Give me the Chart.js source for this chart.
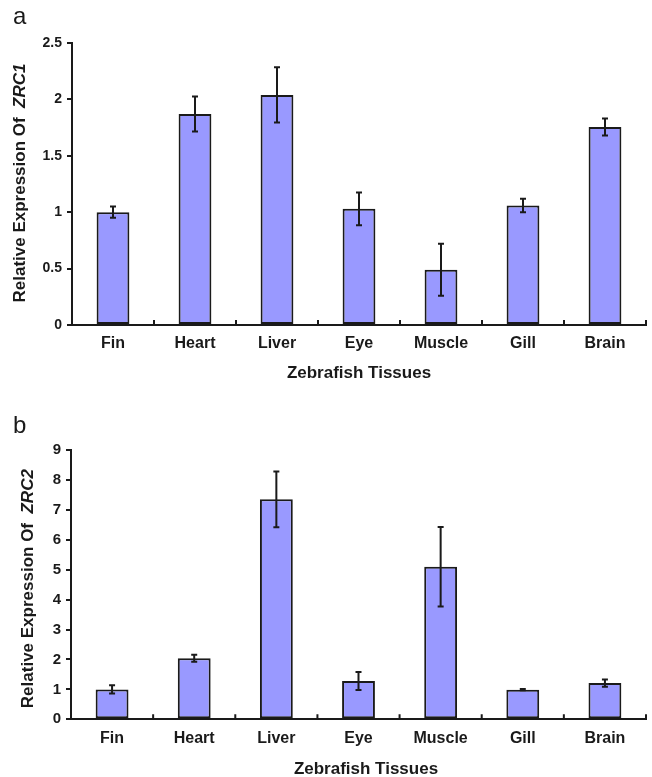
<!DOCTYPE html>
<html>
<head>
<meta charset="utf-8">
<script src="https://cdn.jsdelivr.net/npm/chart.js@4.4.1/dist/chart.umd.min.js"></script>
<style>
  html, body { margin: 0; padding: 0; background: #fff; }
  .panel { position: absolute; left: 0; width: 652px; }
  #panelA { top: 0; height: 385px; }
  #panelB { top: 390px; height: 387px; }
</style>
</head>
<body>
<div class="panel" id="panelA"><canvas id="chartA"></canvas></div>
<div class="panel" id="panelB"><canvas id="chartB"></canvas></div>
<script>
var tissues = ['Fin', 'Heart', 'Liver', 'Eye', 'Muscle', 'Gill', 'Brain'];

// panel a - ZRC1
var zrc1 = [1.0, 1.87, 2.04, 1.03, 0.49, 1.06, 1.755];
var zrc1Err = [0.05, 0.155, 0.245, 0.145, 0.23, 0.06, 0.075];
var zrc1Ticks = [0, 0.5, 1, 1.5, 2, 2.5];

// panel b - ZRC2
var zrc2 = [1.0, 2.04, 7.35, 1.28, 5.1, 0.99, 1.21];
var zrc2Err = [0.14, 0.12, 0.93, 0.3, 1.33, 0.02, 0.12];
var zrc2Ticks = [0, 1, 2, 3, 4, 5, 6, 7, 8, 9];

var FONT = "'Liberation Sans', Arial, sans-serif";
var INK = '#1a1a1a';

// error bars, category ticks on the x axis, and all the titles
var decor = {
    id: 'decor',
    afterDatasetsDraw: function(chart, args, opts) {
        var ctx = chart.ctx;
        var xs = chart.scales.x, ys = chart.scales.y;
        var area = chart.chartArea;
        var ds = chart.data.datasets[0];
        var meta = chart.getDatasetMeta(0);
        ctx.save();
        ctx.strokeStyle = INK;
        ctx.lineWidth = 2;
        ds.data.forEach(function(v, i) {
            var e = ds.errors[i];
            var x = meta.data[i].x;
            var top = ys.getPixelForValue(v + e);
            var bot = ys.getPixelForValue(v - e);
            ctx.beginPath();
            ctx.moveTo(x, top); ctx.lineTo(x, bot);
            ctx.moveTo(x - 3, top); ctx.lineTo(x + 3, top);
            ctx.moveTo(x - 3, bot); ctx.lineTo(x + 3, bot);
            ctx.stroke();
        });
        var w = xs.getPixelForValue(1) - xs.getPixelForValue(0);
        ctx.beginPath();
        for (var i = 0; i < ds.data.length; i++) {
            var bx = xs.getPixelForValue(i) + w / 2;
            ctx.moveTo(bx, area.bottom);
            ctx.lineTo(bx, area.bottom - 5);
        }
        ctx.stroke();
        ctx.restore();
    },
    afterDraw: function(chart, args, opts) {
        var ctx = chart.ctx;
        var area = chart.chartArea;
        ctx.save();
        ctx.fillStyle = INK;
        ctx.textBaseline = 'alphabetic';

        // panel letter
        ctx.font = '24px ' + FONT;
        ctx.textAlign = 'left';
        ctx.fillText(opts.letter, 13, opts.letterY);

        // x axis title
        ctx.font = 'bold 17px ' + FONT;
        ctx.textAlign = 'center';
        ctx.fillText('Zebrafish Tissues', opts.xTitleX, opts.xTitleY);

        // y axis title, gene name in italics
        var part1 = 'Relative Expression Of  ';
        var part2 = opts.gene;
        var f1 = 'bold 17px ' + FONT, f2 = 'italic bold 17px ' + FONT;
        ctx.font = f1;
        var w1 = ctx.measureText(part1).width;
        ctx.font = f2;
        var w2 = ctx.measureText(part2).width;
        var cy = (area.top + area.bottom) / 2 + opts.yShift;
        ctx.translate(opts.yTitleX, cy);
        ctx.rotate(-Math.PI / 2);
        ctx.textAlign = 'left';
        ctx.font = f1;
        ctx.fillText(part1, -(w1 + w2) / 2, 0);
        ctx.font = f2;
        ctx.fillText(part2, -(w1 + w2) / 2 + w1, 0);
        ctx.restore();
    }
};

function makeChart(id, values, errors, tickVals, cfg) {
    return new Chart(document.getElementById(id), {
        type: 'bar',
        data: {
            labels: tissues,
            datasets: [{
                data: values,
                errors: errors,
                backgroundColor: '#9999ff',
                borderColor: INK,
                borderWidth: 2,
                borderSkipped: false,
                barPercentage: 0.4,
                categoryPercentage: 1.0
            }]
        },
        plugins: [decor],
        options: {
            responsive: true,
            maintainAspectRatio: false,
            animation: false,
            layout: { padding: { top: cfg.top, right: 6, left: 0, bottom: 0 } },
            plugins: {
                legend: { display: false },
                tooltip: { enabled: false },
                decor: cfg.decor
            },
            scales: {
                x: {
                    grid: { display: true, drawOnChartArea: false, drawTicks: false, color: 'rgba(0,0,0,0)' },
                    border: { display: true, color: INK, width: 2 },
                    ticks: {
                        color: INK,
                        padding: cfg.xPad,
                        font: { family: FONT, size: 16, weight: 'bold' }
                    },
                    afterFit: function(s) { s.height = cfg.xHeight; }
                },
                y: {
                    min: tickVals[0],
                    max: tickVals[tickVals.length - 1],
                    grid: { display: true, drawOnChartArea: false, drawTicks: true, tickLength: 5, color: INK, lineWidth: 2 },
                    border: { display: true, color: INK, width: 2 },
                    afterBuildTicks: function(s) {
                        s.ticks = tickVals.map(function(v) { return { value: v }; });
                    },
                    ticks: {
                        color: INK,
                        padding: 5,
                        font: { family: FONT, size: cfg.yFont, weight: 'bold' },
                        callback: function(v) { return String(v); }
                    },
                    afterFit: function(s) { s.width = cfg.left; }
                }
            }
        }
    });
}

makeChart('chartA', zrc1, zrc1Err, zrc1Ticks, {
    top: 43, left: 72, xHeight: 60, xPad: 9, yFont: 14,
    decor: { letter: 'a', letterY: 24, gene: 'ZRC1', yTitleX: 25, yShift: -1, xTitleX: 359, xTitleY: 378 }
});

makeChart('chartB', zrc2, zrc2Err, zrc2Ticks, {
    top: 60, left: 71, xHeight: 57.7, xPad: 10, yFont: 15,
    decor: { letter: 'b', letterY: 43, gene: 'ZRC2', yTitleX: 33, yShift: 4, xTitleX: 366, xTitleY: 384 }
});
</script>
</body>
</html>
